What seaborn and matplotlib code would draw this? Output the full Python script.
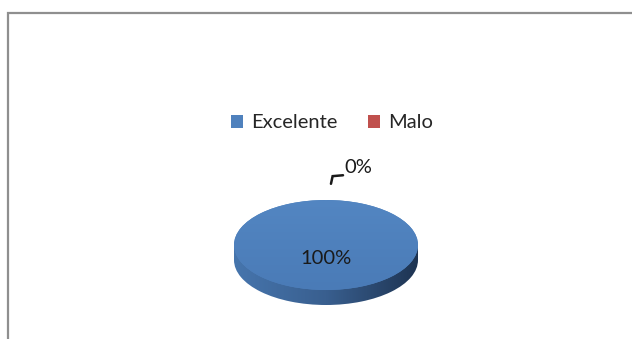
import numpy as np
import matplotlib
matplotlib.use("Agg")
import matplotlib.pyplot as plt
import seaborn as sns
from matplotlib.patches import Rectangle, Patch
from matplotlib.colors import LinearSegmentedColormap

categories = ["Excelente", "Malo"]
values = [100, 0]
colors = ["#4F81BD", "#C0504D"]

sns.set_theme(style="white")
plt.rcParams['font.family'] = ['Lato', 'DejaVu Sans']

W, H = 632, 339
fig = plt.figure(figsize=(W / 100, H / 100), dpi=100)
fig.patch.set_facecolor("white")

# outer frame
fig.patches.append(Rectangle((8 / W, -0.2), 1.2, (H - 13) / H + 0.2,
                             transform=fig.transFigure, fill=False,
                             edgecolor="#8f8f8f", linewidth=1.6, zorder=0))

cx_px, cy_px = 326, 245
ux, uy = 92, 45
xl, yl = 1.2, 2.0
ax = fig.add_axes([(cx_px - xl * ux) / W, (H - cy_px - yl * uy) / H,
                   2 * xl * ux / W, 2 * yl * uy / H])
depth = 15 / uy

# bottom (side) layer
wb, _ = ax.pie(values, colors=colors, startangle=90, counterclock=False,
               center=(0, -depth), wedgeprops=dict(linewidth=0))
rect = Rectangle((-1, -depth), 2, depth, facecolor="none", edgecolor="none")
ax.add_patch(rect)
grad = np.linspace(0, 1, 256).reshape(1, -1)
side_cmap = LinearSegmentedColormap.from_list("side", ["#4675ad", "#395f8f", "#1e3452"])
for clipper in (wb[0], rect):
    im = ax.imshow(grad, extent=(-1, 1, -1 - depth, 0), cmap=side_cmap,
                   aspect="auto", zorder=2)
    im.set_clip_path(clipper)
for w in wb:
    w.set_visible(False)

# top face
wt, _ = ax.pie(values, colors=colors, startangle=90, counterclock=False,
               wedgeprops=dict(linewidth=0))
for w in wt:
    w.set_zorder(3)
top_cmap = LinearSegmentedColormap.from_list("top", ["#5386c2", "#4a7bb7"])
grad_v = np.linspace(0, 1, 256).reshape(-1, 1)
imt = ax.imshow(grad_v, extent=(-1, 1, -1, 1), cmap=top_cmap, aspect="auto", zorder=4)
imt.set_clip_path(wt[0])

ax.set_aspect("auto")
ax.set_xlim(-xl, xl)
ax.set_ylim(-yl, yl)
ax.axis("off")

fs = 14.5
# labels
ax.text(0, -0.29, f"{values[0]}%", ha="center", va="center", fontsize=fs,
        color="#1a1a1a", zorder=6)
lx = [0.054, 0.072, 0.185]
ly = [1.36, 1.53, 1.55]
ax.plot(lx, ly, color="#1a1a1a", lw=1.8, zorder=6, clip_on=False,
        solid_joinstyle="miter")
ax.text(0.2, 1.73, f"{values[1]}%", ha="left", va="center", fontsize=fs,
        color="#1a1a1a", zorder=6, clip_on=False)

handles = [Patch(facecolor=c, edgecolor="none") for c in colors]
fig.legend(handles, categories, loc="center", bbox_to_anchor=(332 / W, 1 - 123 / H),
           ncol=2, frameon=False, fontsize=fs, handlelength=0.6, handleheight=0.6,
           handletextpad=0.4, columnspacing=1.5, labelcolor="#262626")

fig.savefig("out.png", dpi=100)
